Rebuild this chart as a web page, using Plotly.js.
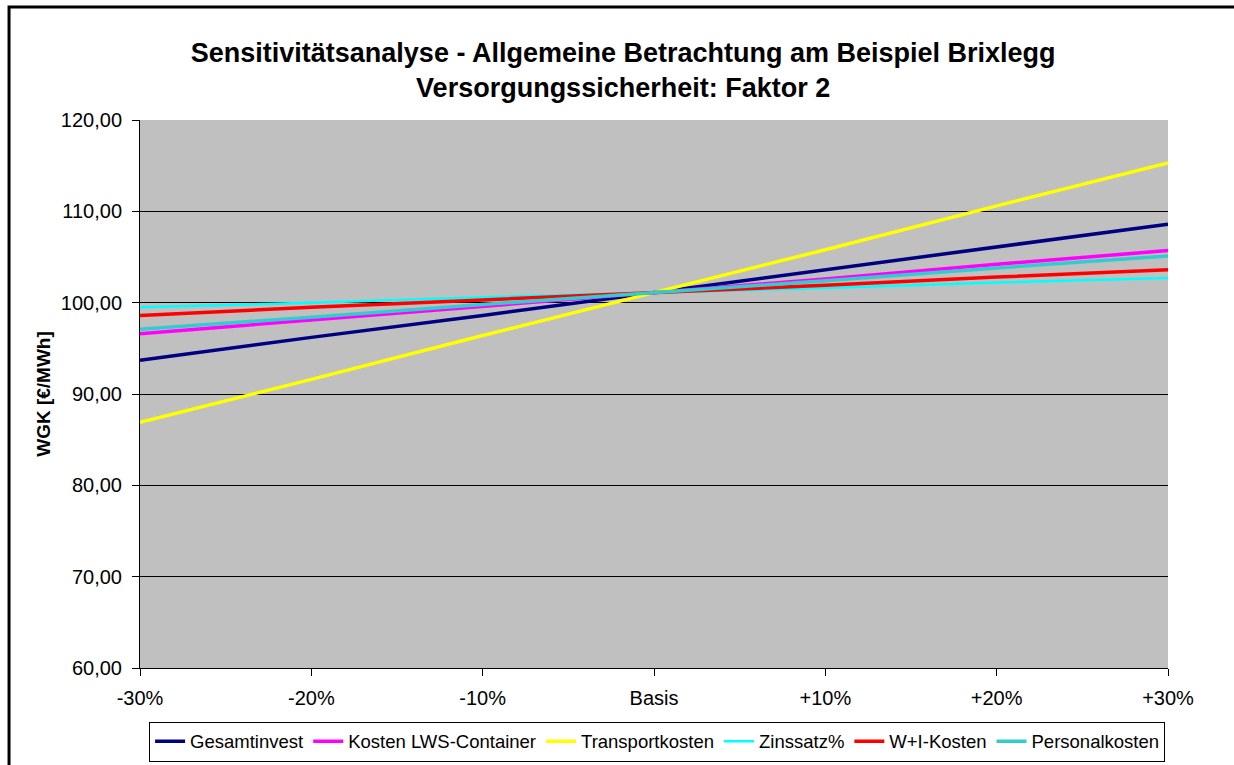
<!DOCTYPE html>
<html>
<head>
<meta charset="utf-8">
<script src="https://cdn.plot.ly/plotly-3.0.1.min.js"></script>
<style>html,body{margin:0;padding:0;background:#fff;}#chart{width:1234px;height:765px;}</style>
</head>
<body>
<div id="chart"></div>
<script>
const categories = ["-30%", "-20%", "-10%", "Basis", "+10%", "+20%", "+30%"];
const gesamtinvest = [93.7, 96.2, 98.6, 101.1, 103.6, 106.1, 108.6];
const kostenLWS = [96.6, 98.1, 99.6, 101.1, 102.6, 104.2, 105.7];
const transportkosten = [86.9, 91.6, 96.4, 101.1, 105.8, 110.6, 115.3];
const zinssatz = [99.5, 100.0, 100.6, 101.1, 101.6, 102.2, 102.7];
const wiKosten = [98.6, 99.5, 100.3, 101.1, 101.9, 102.8, 103.6];
const personalkosten = [97.1, 98.4, 99.8, 101.1, 102.4, 103.8, 105.1];
const yTicks = [60, 70, 80, 90, 100, 110, 120];
const yTickLabels = ["60,00", "70,00", "80,00", "90,00", "100,00", "110,00", "120,00"];

function mk(name, y, color, width) {
  return {x: categories, y: y, name: name, type: 'scatter', mode: 'lines',
          line: {color: color, width: width}};
}
const data = [
  mk('Gesamtinvest', gesamtinvest, '#000080', 3.5),
  mk('Kosten LWS-Container', kostenLWS, '#FF00FF', 3.5),
  mk('Transportkosten', transportkosten, '#FFFF00', 3.5),
  mk('Zinssatz%', zinssatz, '#00FFFF', 2.5),
  mk('W+I-Kosten', wiKosten, '#FF0000', 3.5),
  mk('Personalkosten', personalkosten, '#33CCCC', 3.5)
];

const layout = {
  width: 1234, height: 765,
  margin: {l: 140, r: 66, t: 120, b: 97, autoexpand: false},
  paper_bgcolor: '#ffffff',
  plot_bgcolor: '#C0C0C0',
  font: {family: 'Liberation Sans, Arial, sans-serif', color: '#000', size: 20},
  title: {text: '<b>Sensitivitätsanalyse - Allgemeine Betrachtung am Beispiel Brixlegg<br>Versorgungssicherheit: Faktor 2</b>',
          font: {size: 27, family: 'Liberation Sans, Arial, sans-serif', color: '#000'},
          x: 0.505, xanchor: 'center', y: 0.919, yanchor: 'middle'},
  xaxis: {type: 'category', range: [0, 6], showgrid: false, zeroline: false,
          showline: true, linecolor: '#000', linewidth: 1,
          ticks: 'outside', ticklen: 7, tickcolor: '#000', ticklabelstandoff: 5,
          tickfont: {size: 20}, fixedrange: true},
  yaxis: {range: [60, 120], tickvals: yTicks, ticktext: yTickLabels,
          showgrid: true, gridcolor: '#000', gridwidth: 1, zeroline: false,
          showline: true, linecolor: '#000', linewidth: 1,
          ticks: 'outside', ticklen: 7, tickcolor: '#000', ticklabelstandoff: 6,
          tickfont: {size: 20},
          title: {text: '<b>WGK [€/MWh]</b>', font: {size: 19}, standoff: 5}},
  showlegend: true,
  legend: {orientation: 'h', x: 0.503, xanchor: 'center', y: -0.098, yanchor: 'top',
           bordercolor: '#000', borderwidth: 1, bgcolor: '#fff',
           font: {size: 18.5}, itemwidth: 30, tracegroupgap: 0},
  shapes: [
    {type: 'rect', xref: 'paper', yref: 'paper', x0: -0.1274, x1: 1.2, y0: -0.4, y1: 1.206,
     line: {color: '#000', width: 3}, fillcolor: 'rgba(0,0,0,0)', layer: 'below'}
  ]
};
Plotly.newPlot('chart', data, layout, {displayModeBar: false, staticPlot: true});
</script>
</body>
</html>
